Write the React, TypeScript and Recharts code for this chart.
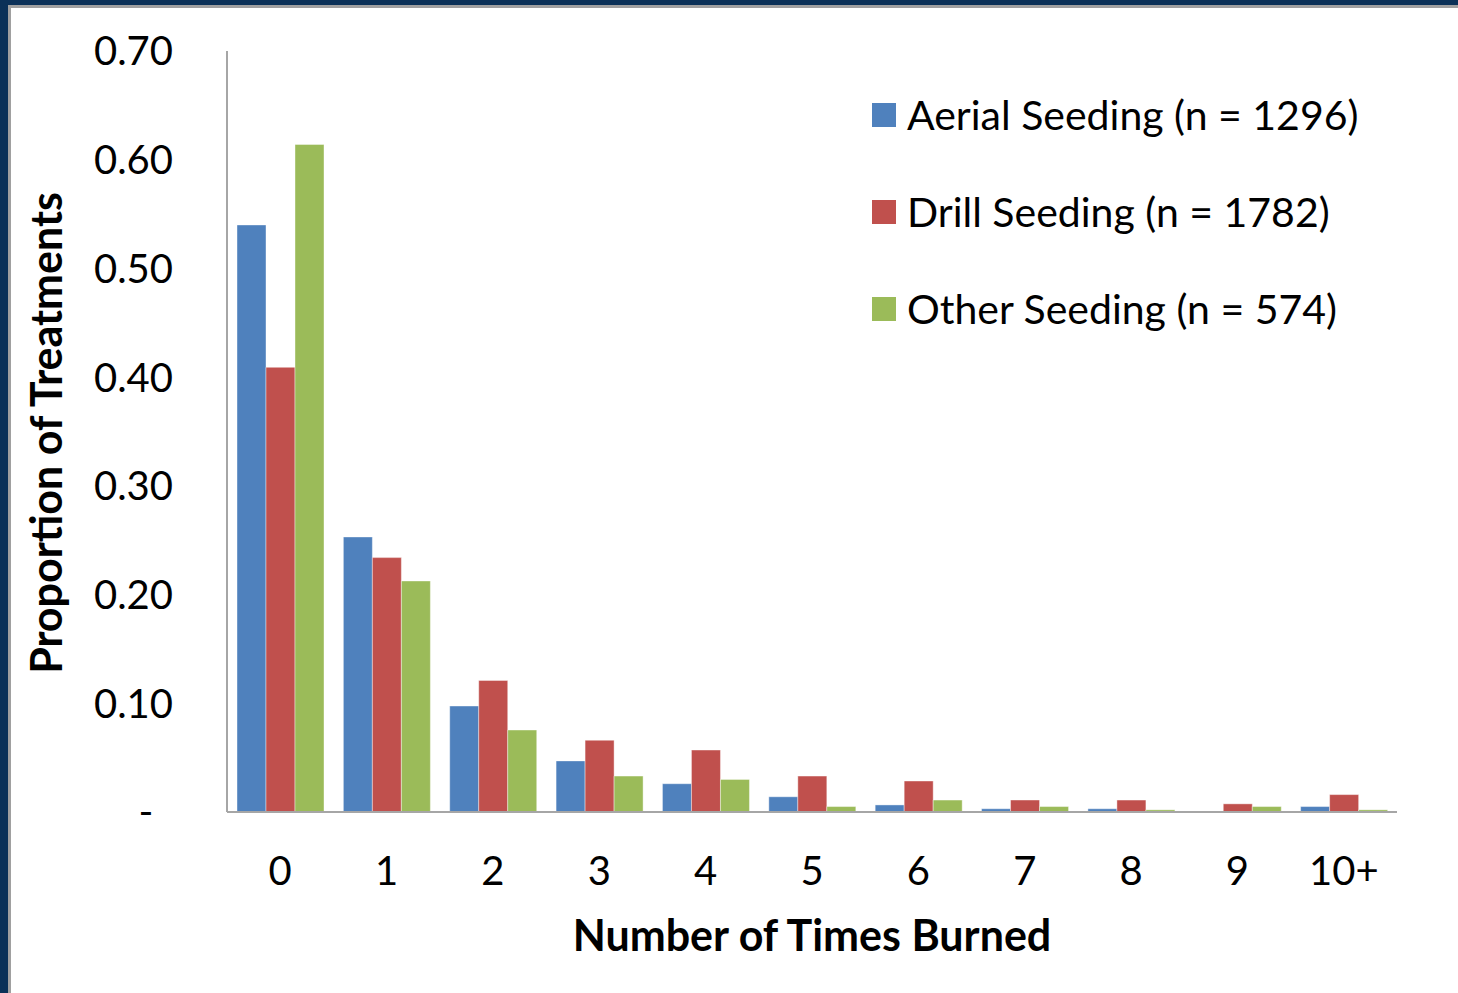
import React from "react";
import { BarChart, Bar, XAxis, YAxis, Legend, Label } from "recharts";

const categories = ["0", "1", "2", "3", "4", "5", "6", "7", "8", "9", "10+"];
const aerial = [0.54, 0.253, 0.0975, 0.047, 0.026, 0.014, 0.0065, 0.003, 0.003, 0, 0.005];
const drill = [0.409, 0.234, 0.121, 0.066, 0.057, 0.033, 0.0285, 0.011, 0.011, 0.0075, 0.016];
const other = [0.614, 0.2125, 0.0754, 0.033, 0.03, 0.005, 0.011, 0.005, 0.002, 0.005, 0.002];
const yTicks = [0, 0.1, 0.2, 0.3, 0.4, 0.5, 0.6, 0.7];

const seriesNames = ["Aerial Seeding (n = 1296)", "Drill Seeding (n = 1782)", "Other Seeding (n = 574)"];
const colors = ["#4F81BD", "#C0504D", "#9BBB59"];

const data = categories.map((c, i) => ({
  name: c,
  aerial: aerial[i],
  drill: drill[i],
  other: other[i],
}));

const FONT = "Lato, 'Open Sans', sans-serif";
const TICK_SIZE = 40;

const YTick = (props: any) => {
  const { x, y, payload } = props;
  const v = payload.value;
  if (v === 0) {
    return (
      <text x={x - 27} y={y} dy="0.36em" textAnchor="middle" fontFamily={FONT} fontSize={TICK_SIZE} fill="#000">
        -
      </text>
    );
  }
  return (
    <text x={x} y={y} dy="0.36em" textAnchor="end" fontFamily={FONT} fontSize={TICK_SIZE} fill="#000">
      {v.toFixed(2)}
    </text>
  );
};

const XTick = (props: any) => {
  const { x, y, payload } = props;
  return (
    <text x={x} y={y} dy="0.72em" textAnchor="middle" fontFamily={FONT} fontSize={TICK_SIZE} fill="#000">
      {payload.value}
    </text>
  );
};

const LegendContent = () => (
  <div style={{ fontFamily: FONT, fontSize: 41, color: "#000" }}>
    {seriesNames.map((n, i) => (
      <div key={n} style={{ display: "flex", alignItems: "center", height: 97 }}>
        <div style={{ width: 24, height: 24, background: colors[i], marginRight: 11 }} />
        <span style={{ whiteSpace: "nowrap" }}>{n}</span>
      </div>
    ))}
  </div>
);

export default function App() {
  return (
    <div
      style={{
        position: "absolute",
        left: 0,
        top: 0,
        width: 1458,
        height: 993,
        background: "#fff",
        overflow: "hidden",
      }}
    >
      <div style={{ position: "absolute", left: 0, top: 0, width: 1458, height: 5, background: "#0B3158" }} />
      <div style={{ position: "absolute", left: 0, top: 0, width: 8, height: 993, background: "#0B3158" }} />
      <div style={{ position: "absolute", left: 8, top: 5, width: 1450, height: 3, background: "#A0A0A0" }} />
      <div style={{ position: "absolute", left: 8, top: 5, width: 3, height: 988, background: "#A0A0A0" }} />
      <div style={{ position: "absolute", left: 0, top: 0 }}>
        <BarChart
          width={1458}
          height={993}
          data={data}
          margin={{ top: 51, right: 61, bottom: 0, left: 0 }}
          barCategoryGap={10}
          barGap={0}
        >
          <XAxis
            dataKey="name"
            height={181}
            tickLine={false}
            tickSize={0}
            tickMargin={44}
            tick={<XTick />}
            axisLine={{ stroke: "#A6A6A6", strokeWidth: 2 }}
            interval={0}
          >
            <Label
              content={() => (
                <text x={812} y={936} dy="0.36em" textAnchor="middle" fontFamily={FONT} fontSize={43} fontWeight={700} fill="#000">
                  Number of Times Burned
                </text>
              )}
            />
          </XAxis>
          <YAxis
            width={227}
            domain={[0, 0.7]}
            ticks={yTicks}
            interval={0}
            tickLine={false}
            tickSize={0}
            tickMargin={54}
            tick={<YTick />}
            axisLine={{ stroke: "#A6A6A6", strokeWidth: 2 }}
          >
            <Label
              content={() => (
                <text
                  x={47}
                  y={433}
                  dy="0.36em"
                  textAnchor="middle"
                  transform="rotate(-90 47 433)"
                  fontFamily={FONT}
                  fontSize={43}
                  fontWeight={700}
                  fill="#000"
                >
                  Proportion of Treatments
                </text>
              )}
            />
          </YAxis>
          <Legend
            layout="vertical"
            align="center"
            verticalAlign="middle"
            content={<LegendContent />}
            wrapperStyle={{ position: "absolute", left: 872, top: 66, width: 580 }}
          />
          <Bar dataKey="aerial" name={seriesNames[0]} fill={colors[0]} stroke="#ffffff" strokeOpacity={0.4} isAnimationActive={false} />
          <Bar dataKey="drill" name={seriesNames[1]} fill={colors[1]} stroke="#ffffff" strokeOpacity={0.4} isAnimationActive={false} />
          <Bar dataKey="other" name={seriesNames[2]} fill={colors[2]} stroke="#ffffff" strokeOpacity={0.4} isAnimationActive={false} />
        </BarChart>
      </div>
    </div>
  );
}
